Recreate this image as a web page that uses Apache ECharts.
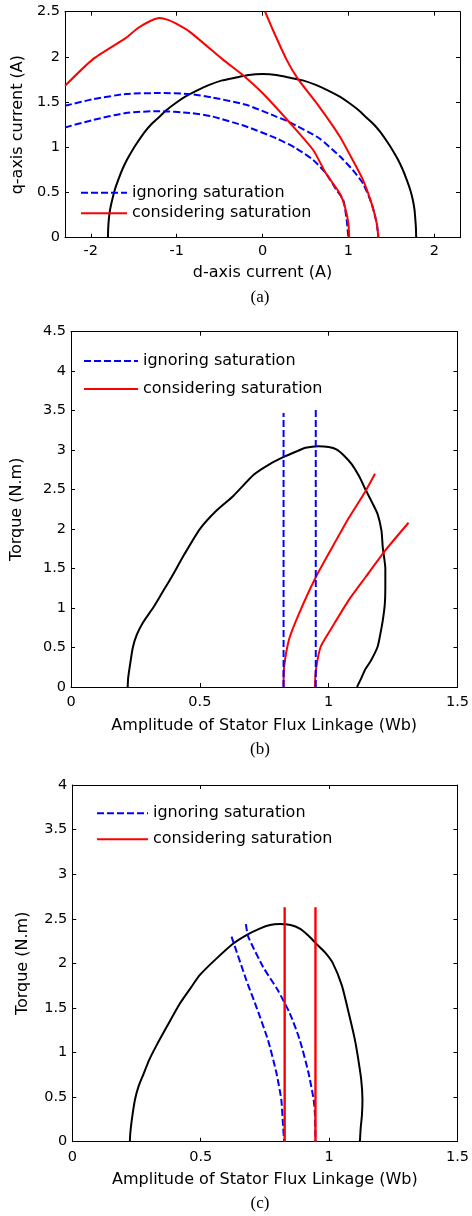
<!DOCTYPE html>
<html>
<head>
<meta charset="utf-8">
<script src="https://cdn.jsdelivr.net/npm/echarts@6/dist/echarts.min.js"></script>
<style>html,body{margin:0;padding:0;background:#fff}#c{width:472px;height:1216px}</style>
</head>
<body>
<div id="c"></div>
<script>
// ---------- data ----------
// (a) d-q current plane
const aLimit = [[-1.80,0],[-1.797,0.1],[-1.79,0.2],[-1.775,0.31],[-1.75,0.42],[-1.72,0.53],[-1.68,0.64],[-1.63,0.76],[-1.58,0.86],[-1.52,0.96],[-1.46,1.05],[-1.38,1.16],[-1.30,1.25],[-1.21,1.33],[-1.12,1.41],[-1.01,1.49],[-0.90,1.56],[-0.76,1.63],[-0.62,1.69],[-0.47,1.74],[-0.32,1.77],[-0.16,1.80],[0,1.81],[0.16,1.80],[0.32,1.77],[0.47,1.74],[0.62,1.69],[0.76,1.63],[0.90,1.56],[1.01,1.49],[1.12,1.41],[1.21,1.33],[1.30,1.25],[1.38,1.16],[1.46,1.05],[1.52,0.96],[1.58,0.86],[1.63,0.76],[1.68,0.64],[1.72,0.53],[1.75,0.42],[1.77,0.31],[1.78,0.2],[1.787,0.1],[1.79,0]];
const aIgnoreHigh = [[-2.3,1.46],[-1.98,1.53],[-1.59,1.59],[-1.2,1.60],[-0.85,1.59],[-0.58,1.55],[-0.19,1.47],[0.16,1.34],[0.31,1.28],[0.66,1.10],[0.90,0.90],[1.05,0.75],[1.17,0.60],[1.27,0.38],[1.33,0.16],[1.35,0]];
const aIgnoreLow = [[-2.3,1.22],[-1.98,1.30],[-1.59,1.38],[-1.2,1.40],[-0.85,1.38],[-0.58,1.34],[-0.19,1.23],[0.16,1.10],[0.39,0.99],[0.59,0.86],[0.74,0.71],[0.86,0.53],[0.94,0.42],[0.98,0.2],[1.0,0]];
const aSatA = [[-2.3,1.68],[-1.98,1.97],[-1.59,2.21],[-1.45,2.32],[-1.3,2.40],[-1.2,2.43],[-1.1,2.41],[-1.01,2.37],[-0.85,2.28],[-0.46,1.97],[-0.23,1.80],[0,1.60],[0.31,1.28],[0.59,0.97],[0.74,0.71],[0.90,0.49],[0.96,0.34],[1.0,0.16],[1.01,0]];
const aSatB = [[0.03,2.5],[0.12,2.30],[0.28,1.97],[0.41,1.76],[0.66,1.45],[0.90,1.12],[1.05,0.86],[1.17,0.64],[1.27,0.38],[1.33,0.16],[1.35,0]];
// (b) torque vs flux
const bLimit = [[0.22,0],[0.222,0.12],[0.23,0.3],[0.24,0.5],[0.255,0.66],[0.28,0.82],[0.32,1.01],[0.355,1.2],[0.39,1.39],[0.44,1.68],[0.50,2.0],[0.56,2.22],[0.63,2.42],[0.71,2.69],[0.77,2.82],[0.83,2.92],[0.88,2.99],[0.91,3.03],[0.96,3.05],[1.00,3.04],[1.03,3.01],[1.06,2.93],[1.09,2.82],[1.12,2.66],[1.14,2.52],[1.165,2.36],[1.19,2.19],[1.205,1.98],[1.21,1.77],[1.22,1.5],[1.22,1.26],[1.218,1.05],[1.21,0.84],[1.2,0.66],[1.19,0.51],[1.165,0.34],[1.14,0.21],[1.125,0.1],[1.11,0]];
const bIgnoreA = [[0.825,0],[0.825,3.47]];
const bIgnoreB = [[0.95,0],[0.95,3.51]];
const bSatA = [[0.825,0],[0.827,0.25],[0.847,0.61],[0.885,0.93],[0.95,1.39],[1.014,1.77],[1.078,2.14],[1.143,2.48],[1.18,2.70]];
const bSatB = [[0.947,0],[0.95,0.2],[0.969,0.51],[1.014,0.76],[1.078,1.10],[1.143,1.39],[1.22,1.73],[1.31,2.08]];
// (c) torque vs flux
const cLimit = [[0.224,0],[0.226,0.1],[0.232,0.25],[0.244,0.47],[0.258,0.62],[0.276,0.75],[0.30,0.92],[0.328,1.08],[0.37,1.3],[0.419,1.55],[0.46,1.72],[0.497,1.87],[0.56,2.05],[0.626,2.22],[0.68,2.32],[0.73,2.39],[0.77,2.43],[0.808,2.44],[0.85,2.43],[0.886,2.39],[0.92,2.31],[0.95,2.22],[0.985,2.12],[1.015,2.0],[1.05,1.75],[1.08,1.40],[1.10,1.15],[1.11,0.99],[1.125,0.7],[1.13,0.47],[1.128,0.3],[1.123,0.15],[1.12,0]];
const cIgnoreA = [[0.62,2.30],[0.678,1.81],[0.717,1.51],[0.762,1.14],[0.795,0.77],[0.814,0.47],[0.82,0.21],[0.825,0]];
const cIgnoreB = [[0.676,2.44],[0.685,2.30],[0.743,1.96],[0.80,1.70],[0.847,1.44],[0.886,1.14],[0.92,0.77],[0.94,0.47],[0.945,0.3],[0.947,0]];
const cSatA = [[0.827,0],[0.827,2.63]];
const cSatB = [[0.947,0],[0.947,2.63]];

const aXTicks = [-2,-1,0,1,2];
const legendNames = ['ignoring saturation','considering saturation'];
const xNames = ['d-axis current (A)','Amplitude of Stator Flux Linkage (Wb)','Amplitude of Stator Flux Linkage (Wb)'];
const yNames = ['q-axis current (A)','Torque (N.m)','Torque (N.m)'];
const captions = ['(a)','(b)','(c)'];

// ---------- chart ----------
const FONT = '"DejaVu Sans", "Liberation Sans", Arial, sans-serif';
const TICK_FS = 14.5, NAME_FS = 16, LEG_FS = 16;
const grids = [
  {left:65, top:11.7, width:395, height:226},
  {left:71, top:331.7, width:388, height:355.3},
  {left:72.3, top:785, width:385.7, height:356.7}
];
const xr = [{min:-2.3,max:2.3},{min:0,max:1.5,interval:0.5},{min:0,max:1.5,interval:0.5}];
const yr = [{min:0,max:2.5,interval:0.5},{min:0,max:4.5,interval:0.5},{min:0,max:4,interval:0.5}];
const xNameGap = [27, 31, 30];
const yNameGap = [37, 46, 41];
const xLabMargin = [6, 8, 8];

const lineAx = {show:true, lineStyle:{color:'#000', width:1}};
const tick = {show:true, inside:true, length:4, lineStyle:{color:'#000', width:1}};
const xAxis = [], yAxis = [];
for (let i=0;i<3;i++){
  const custom = i===0 ? {customValues:aXTicks} : {};
  xAxis.push(Object.assign({type:'value', gridIndex:i, position:'bottom', name:xNames[i], nameLocation:'middle', nameGap:xNameGap[i],
    nameTextStyle:{fontFamily:FONT, fontSize:NAME_FS, color:'#000'},
    axisLine:Object.assign({onZero:false}, lineAx), axisTick:Object.assign({}, tick, custom),
    axisLabel:Object.assign({fontFamily:FONT, fontSize:TICK_FS, color:'#000', margin:xLabMargin[i]}, custom),
    splitLine:{show:false}}, xr[i]));
  xAxis.push(Object.assign({type:'value', gridIndex:i, position:'top',
    axisLine:Object.assign({onZero:false}, lineAx), axisTick:Object.assign({}, tick, custom),
    axisLabel:{show:false}, splitLine:{show:false}}, xr[i]));
  yAxis.push(Object.assign({type:'value', gridIndex:i, position:'left', name:yNames[i], nameLocation:'middle', nameGap:yNameGap[i],
    nameTextStyle:{fontFamily:FONT, fontSize:NAME_FS, color:'#000'},
    axisLine:Object.assign({onZero:false}, lineAx), axisTick:tick,
    axisLabel:{fontFamily:FONT, fontSize:TICK_FS, color:'#000', margin:5},
    splitLine:{show:false}}, yr[i]));
  yAxis.push(Object.assign({type:'value', gridIndex:i, position:'right',
    axisLine:Object.assign({onZero:false}, lineAx), axisTick:tick,
    axisLabel:{show:false}, splitLine:{show:false}}, yr[i]));
}

function ser(name, data, g, kind, smooth){
  const styles = {
    black:{color:'#000', width:2, type:'solid'},
    blue:{color:'#0000ff', width:2, type:[7,3]},
    red:{color:'#ff0000', width:g===2?2.4:2, type:'solid'}
  };
  return {type:'line', name:name, xAxisIndex:g*2, yAxisIndex:g*2, data:data, showSymbol:false, symbol:'none',
    smooth:smooth||false, silent:true, animation:false, lineStyle:styles[kind], itemStyle:{color:styles[kind].color}};
}

const series = [
  ser('limit a', aLimit, 0, 'black', 0.2),
  ser(legendNames[0], aIgnoreHigh, 0, 'blue', 0.2),
  ser(legendNames[0], aIgnoreLow, 0, 'blue', 0.2),
  ser(legendNames[1], aSatA, 0, 'red', 0.2),
  ser(legendNames[1], aSatB, 0, 'red', 0.2),
  ser('limit b', bLimit, 1, 'black', 0.2),
  ser(legendNames[1], bSatA, 1, 'red', 0.2),
  ser(legendNames[1], bSatB, 1, 'red', 0.2),
  ser(legendNames[0], bIgnoreA, 1, 'blue'),
  ser(legendNames[0], bIgnoreB, 1, 'blue'),
  ser('limit c', cLimit, 2, 'black', 0.2),
  ser(legendNames[0], cIgnoreA, 2, 'blue', 0.2),
  ser(legendNames[0], cIgnoreB, 2, 'blue', 0.2),
  ser(legendNames[1], cSatA, 2, 'red'),
  ser(legendNames[1], cSatB, 2, 'red')
];

const legPos = [
  {left:80, top:184.7, itemWidth:46, itemGap:4.6},
  {left:83, top:353, itemWidth:54, itemGap:12},
  {left:96, top:805.3, itemWidth:51, itemGap:10}
];
const legend = legPos.map(p => ({data:legendNames, orient:'vertical', left:p.left, top:p.top, itemWidth:p.itemWidth, itemHeight:16,
  itemGap:p.itemGap, padding:0, selectedMode:false,
  itemStyle:{color:'rgba(0,0,0,0)', borderWidth:0, opacity:0},
  textStyle:{fontFamily:FONT, fontSize:LEG_FS, color:'#000'}}));

const capY = [298, 750, 1204];
const graphic = captions.map((t,i)=>({type:'text', style:{text:t, x:260, y:capY[i], align:'center', verticalAlign:'middle',
  font:'17px "Liberation Serif", "Times New Roman", serif', fill:'#000'}}));

const chart = echarts.init(document.getElementById('c'), null, {renderer:'canvas'});
chart.setOption({animation:false, backgroundColor:'#fff', grid:grids, xAxis:xAxis, yAxis:yAxis, series:series, legend:legend, graphic:graphic});
</script>
</body>
</html>
